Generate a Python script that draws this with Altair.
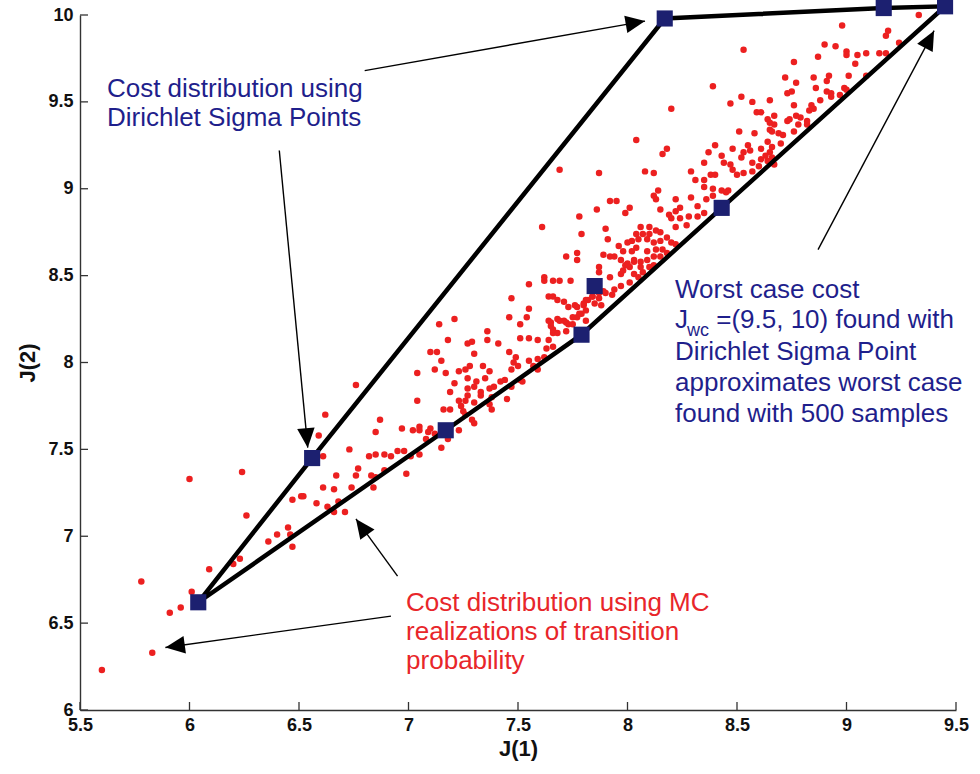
import math
import altair as alt
import pandas as pd

# ---------------- data ----------------
W, H = 876, 695
X_DOM = [5.5, 9.5]
Y_DOM = [6.0, 10.0]

x_ticks = [5.5, 6, 6.5, 7, 7.5, 8, 8.5, 9, 9.5]
y_ticks = [6, 6.5, 7, 7.5, 8, 8.5, 9, 9.5, 10]

# Dirichlet sigma points (blue squares)
sigma_x = [6.04, 6.56, 7.17, 7.79, 7.85, 8.43, 8.17, 9.17, 9.45]
sigma_y = [6.62, 7.45, 7.61, 8.16, 8.44, 8.89, 9.98, 10.04, 10.05]

# outline through the sigma points
hull_x = [6.04, 6.56, 8.17, 9.17, 9.45, 8.43, 7.79, 7.17, 6.04]
hull_y = [6.62, 7.45, 9.98, 10.04, 10.05, 8.89, 8.16, 7.61, 6.62]

# Monte Carlo cost realizations (red dots)
mc_points = [
    (6.00, 7.33), (6.24, 7.37), (6.26, 7.12), (6.47, 7.21), (6.51, 7.23), (6.45, 7.05),
    (6.46, 7.01), (6.40, 7.01), (6.36, 6.97), (6.47, 6.94), (6.23, 6.87), (6.20, 6.84),
    (6.09, 6.81), (5.78, 6.74), (6.01, 6.68), (5.96, 6.59), (5.91, 6.56), (5.83, 6.33),
    (5.60, 6.23), (6.66, 7.14),
    (6.76, 7.87), (6.62, 7.70), (6.87, 7.67), (6.59, 7.58), (6.85, 7.60), (6.61, 7.46),
    (6.73, 7.50), (6.82, 7.46), (6.85, 7.47), (6.89, 7.47), (6.92, 7.46), (6.95, 7.49),
    (6.98, 7.49), (7.01, 7.46), (7.05, 7.47), (6.77, 7.39), (6.67, 7.35), (6.76, 7.35),
    (6.83, 7.35), (6.85, 7.34), (6.89, 7.38), (6.99, 7.36), (6.52, 7.23), (6.61, 7.28),
    (6.66, 7.27), (6.74, 7.28), (6.84, 7.28), (6.58, 7.19), (6.63, 7.17), (6.68, 7.20),
    (6.71, 7.14),
    (6.97, 7.62), (7.02, 7.61), (7.05, 7.63), (7.05, 7.61), (7.09, 7.60), (7.10, 7.62),
    (7.08, 7.56), (7.12, 7.59), (7.15, 7.51), (7.18, 7.56), (7.23, 7.61),
    (7.04, 7.94), (7.04, 7.78), (7.18, 8.13), (7.12, 7.96), (7.17, 7.94), (7.15, 8.01),
    (7.10, 8.06), (7.13, 8.06), (7.16, 7.73), (7.19, 7.73), (7.19, 7.83), (7.21, 7.88),
    (7.23, 7.95), (7.26, 7.96), (7.28, 7.98), (7.27, 8.11), (7.29, 8.12), (7.30, 8.05),
    (7.36, 8.18), (7.36, 8.13), (7.41, 8.11), (7.34, 7.98), (7.37, 7.95), (7.27, 7.91),
    (7.31, 7.89), (7.35, 7.91), (7.27, 7.85), (7.30, 7.86), (7.33, 7.83), (7.33, 7.81),
    (7.37, 7.85), (7.39, 7.86), (7.42, 7.89), (7.44, 7.90), (7.23, 7.78), (7.26, 7.78),
    (7.27, 7.81), (7.30, 7.77), (7.24, 7.75), (7.25, 7.72), (7.26, 7.70), (7.29, 7.67),
    (7.30, 7.65), (7.37, 7.76), (7.38, 7.73), (7.38, 7.80), (7.45, 7.79), (7.47, 7.86),
    (7.46, 8.06), (7.48, 8.00), (7.47, 7.96), (7.49, 8.03), (7.50, 7.98),
    (7.61, 8.78), (7.79, 8.74), (7.90, 8.77), (7.91, 8.71), (7.96, 8.67), (8.04, 8.74),
    (7.72, 8.61), (7.77, 8.63), (7.77, 8.59), (7.89, 8.62), (7.92, 8.61), (7.94, 8.61),
    (7.87, 8.55), (7.87, 8.52), (7.92, 8.49), (7.97, 8.51), (7.99, 8.56), (8.03, 8.58),
    (7.55, 8.45), (7.62, 8.47), (7.66, 8.47), (7.69, 8.47), (7.74, 8.47), (7.62, 8.49),
    (7.47, 8.37), (7.64, 8.38), (7.66, 8.38), (7.68, 8.36), (7.71, 8.35), (7.73, 8.32),
    (7.76, 8.33), (7.80, 8.33), (7.81, 8.36), (7.84, 8.38), (7.85, 8.34), (7.87, 8.37),
    (7.88, 8.33), (7.90, 8.40), (7.93, 8.39), (7.94, 8.42), (7.97, 8.44), (8.01, 8.46),
    (8.05, 8.49), (7.55, 8.31), (7.54, 8.26), (7.51, 8.22), (7.46, 8.26), (7.14, 8.22),
    (7.21, 8.25), (7.51, 8.14), (7.55, 8.14), (7.59, 8.13), (7.64, 8.13), (7.64, 8.24),
    (7.65, 8.21), (7.66, 8.17), (7.69, 8.24), (7.72, 8.23), (7.75, 8.22), (7.77, 8.26),
    (7.79, 8.28), (7.81, 8.24), (7.55, 8.01), (7.59, 8.02), (7.63, 8.08), (7.66, 8.09),
    (7.57, 7.98), (7.59, 7.96), (7.62, 8.03), (7.51, 7.90), (7.52, 7.89),
    (7.65, 8.23), (7.68, 8.25), (7.71, 8.24), (7.73, 8.22), (7.72, 8.18), (7.68, 8.17),
    (7.66, 8.19), (7.75, 8.26), (7.77, 8.32), (7.80, 8.34), (7.82, 8.36), (7.84, 8.38),
    (7.87, 8.40), (7.89, 8.41), (7.78, 8.28), (7.81, 8.30),
    (8.20, 9.46), (8.47, 9.49), (8.57, 9.50), (8.59, 9.44), (8.04, 9.28), (8.18, 9.23),
    (8.16, 9.20), (8.51, 9.33), (8.58, 9.32), (8.40, 9.25), (8.37, 9.21), (8.43, 9.19),
    (8.48, 9.23), (8.55, 9.25), (8.53, 9.21), (8.56, 9.22), (8.52, 9.18), (8.35, 9.15),
    (8.44, 9.15), (8.47, 9.14), (8.48, 9.11), (8.50, 9.08), (8.53, 9.09), (8.57, 9.15),
    (8.57, 9.10), (8.60, 9.13), (7.69, 9.11), (7.87, 9.09), (8.08, 9.10), (8.12, 9.09),
    (8.29, 9.10), (8.31, 9.05), (8.35, 9.05), (8.38, 9.08), (8.40, 9.08), (8.35, 9.01),
    (8.39, 9.00), (8.43, 8.99), (8.46, 8.99), (8.14, 8.99), (8.12, 8.96), (7.92, 8.93),
    (7.95, 8.93), (8.01, 8.89), (7.86, 8.88), (7.99, 8.86), (7.78, 8.84), (8.13, 8.94),
    (8.15, 8.88), (8.22, 8.94), (8.24, 8.89), (8.29, 8.95), (8.36, 8.94), (8.39, 8.96),
    (8.45, 8.98), (8.32, 8.90), (8.35, 8.86), (8.32, 8.84), (8.19, 8.85), (8.22, 8.87),
    (8.20, 8.83), (8.24, 8.83), (8.28, 8.84), (8.27, 8.79), (8.22, 8.78),
    (8.00, 8.69), (8.02, 8.70), (8.06, 8.78), (8.10, 8.78), (8.10, 8.74), (8.07, 8.74),
    (8.05, 8.71), (8.09, 8.71), (8.13, 8.76), (8.15, 8.75), (8.12, 8.69), (8.15, 8.70),
    (8.18, 8.72), (8.20, 8.69), (8.22, 8.68), (8.16, 8.65), (8.13, 8.65), (8.09, 8.64),
    (8.04, 8.66), (8.02, 8.64), (7.98, 8.64), (7.97, 8.59), (8.00, 8.57), (8.03, 8.59),
    (8.06, 8.58), (8.09, 8.59), (8.12, 8.61), (8.15, 8.61), (8.18, 8.63), (8.10, 8.55),
    (8.06, 8.55), (8.01, 8.55), (7.98, 8.53), (8.03, 8.51), (8.07, 8.52), (8.12, 8.56),
    (9.33, 10.00), (8.98, 9.94), (9.19, 9.91), (9.18, 9.88), (9.24, 9.84), (8.53, 9.80),
    (8.90, 9.83), (8.95, 9.82), (9.00, 9.79), (9.00, 9.77), (9.05, 9.77), (9.09, 9.78),
    (9.15, 9.78), (9.18, 9.78), (8.87, 9.76), (8.76, 9.73), (9.04, 9.72), (8.72, 9.64),
    (8.77, 9.61), (8.85, 9.64), (8.91, 9.62), (8.92, 9.65), (9.01, 9.65), (9.09, 9.65),
    (8.39, 9.59), (8.86, 9.58), (8.75, 9.56), (8.73, 9.55), (8.91, 9.56), (8.93, 9.55),
    (8.93, 9.53), (8.97, 9.54), (8.99, 9.58), (9.00, 9.57), (8.52, 9.53), (8.65, 9.51),
    (8.76, 9.48), (8.88, 9.51), (8.84, 9.48), (8.85, 9.46), (8.83, 9.45), (8.61, 9.44),
    (8.67, 9.42), (8.64, 9.40), (8.65, 9.38), (8.67, 9.37), (8.77, 9.42), (8.79, 9.41),
    (8.78, 9.37), (8.74, 9.40), (8.82, 9.39), (8.82, 9.37), (8.65, 9.34), (8.66, 9.33),
    (8.69, 9.32), (8.71, 9.31), (8.76, 9.33), (8.73, 9.39), (8.61, 9.23), (8.66, 9.24),
    (8.70, 9.26), (8.64, 9.27), (8.65, 9.21), (8.63, 9.19), (8.61, 9.17), (8.66, 9.18),
    (8.64, 9.16), (8.67, 9.14),
]

# annotation arrows: (from x, from y) -> (tip x, tip y)
arrow_from_x = [6.80, 6.41, 8.87, 6.95, 6.92]
arrow_from_y = [9.68, 9.22, 8.65, 6.77, 6.54]
arrow_to_x = [8.08, 6.54, 9.40, 6.76, 5.89]
arrow_to_y = [9.965, 7.51, 9.91, 7.10, 6.36]

# annotation text lines
NAVY = "#1f1f8c"
RED = "#e8262a"
note_text = [
    "Cost distribution using", "Dirichlet Sigma Points",
    "Worst case cost", "J", "wc", "=(9.5, 10) found with", "Dirichlet Sigma Point",
    "approximates worst case", "found with 500 samples",
    "Cost distribution using MC", "realizations of transition", "probability",
]
note_x = [5.623, 5.623,
          8.217, 8.217, 8.272, 8.405, 8.217, 8.217, 8.217,
          6.989, 6.989, 6.989]
note_y = [9.528, 9.361,
          8.371, 8.199, 8.150, 8.199, 8.015, 7.836, 7.658,
          6.570, 6.403, 6.236]
note_color = [NAVY, NAVY, NAVY, NAVY, NAVY, NAVY, NAVY, NAVY, NAVY, RED, RED, RED]
note_size = [26, 26, 26, 26, 18, 26, 26, 26, 26, 26, 26, 26]

# ---------------- build ----------------
FONT = "Liberation Sans"
xs = alt.Scale(domain=X_DOM, nice=False, zero=False)
ys = alt.Scale(domain=Y_DOM, nice=False, zero=False)

mc_df = pd.DataFrame(mc_points, columns=["x", "y"])
sig_df = pd.DataFrame({"x": sigma_x, "y": sigma_y})
hull_df = pd.DataFrame({"x": hull_x, "y": hull_y, "o": list(range(len(hull_x)))})

kx = W / (X_DOM[1] - X_DOM[0])
ky = H / (Y_DOM[1] - Y_DOM[0])
angles = []
for fx, fy, tx, ty in zip(arrow_from_x, arrow_from_y, arrow_to_x, arrow_to_y):
    a = math.degrees(math.atan2(-(ty - fy) * ky, (tx - fx) * kx)) % 360
    angles.append(a)
arr_df = pd.DataFrame({"x": arrow_from_x, "y": arrow_from_y,
                       "x2": arrow_to_x, "y2": arrow_to_y})
head_df = pd.DataFrame({"x": arrow_to_x, "y": arrow_to_y, "ang": angles})
note_df = pd.DataFrame({"t": note_text, "x": note_x, "y": note_y,
                        "c": note_color, "s": note_size})
xt_df = pd.DataFrame({"x": x_ticks})
yt_df = pd.DataFrame({"y": y_ticks})

common_axis = dict(format="~g", grid=False, ticks=False, labelFlush=False,
                   labelOverlap=False, labelFont=FONT, labelFontSize=18,
                   labelFontWeight="bold", labelColor="#111111",
                   titleFont=FONT, titleFontSize=22,
                   titleColor="#111111", titleFontWeight="bold",
                   domainColor="#333333", domainWidth=1.4)
x_axis = alt.Axis(title="J(1)", values=x_ticks, labelPadding=6, titlePadding=4,
                  **common_axis)
y_axis = alt.Axis(title="J(2)", values=y_ticks, labelPadding=7, titlePadding=8,
                  **common_axis)


def X(field="x"):
    return alt.X(f"{field}:Q", scale=xs, axis=x_axis, title="J(1)")


def Y(field="y"):
    return alt.Y(f"{field}:Q", scale=ys, axis=y_axis, title="J(2)")


scatter = alt.Chart(mc_df).mark_circle(size=42, color="#ec2020", opacity=1).encode(
    x=X(), y=Y(),
)

hull = alt.Chart(hull_df).mark_line(color="black", strokeWidth=4.5, strokeJoin="miter").encode(
    x=X(), y=Y(), order="o:Q",
)

squares = alt.Chart(sig_df).mark_square(size=260, color="#1c2070", opacity=1).encode(
    x=X(), y=Y(),
)

shafts = alt.Chart(arr_df).mark_rule(color="black", strokeWidth=1.4).encode(
    x=X(), y=Y(), x2="x2:Q", y2="y2:Q",
)

heads = alt.Chart(head_df).mark_point(
    shape="M0,0 L-2,-0.9 L-2,0.9 Z", filled=True, color="black", opacity=1,
    size=380, strokeWidth=0,
).encode(
    x=X(), y=Y(), angle=alt.Angle("ang:Q", scale=None),
)

notes = alt.Chart(note_df).mark_text(align="left", baseline="alphabetic", font=FONT).encode(
    x=X(), y=Y(),
    text="t:N",
    color=alt.Color("c:N", scale=None),
    size=alt.Size("s:Q", scale=None),
)

xticks = alt.Chart(xt_df).mark_rule(color="#333333", strokeWidth=1.3).encode(
    x=X(),
    y=alt.value(H),
    y2=alt.value(H - 8),
)
yticks = alt.Chart(yt_df).mark_rule(color="#333333", strokeWidth=1.3).encode(
    y=Y(),
    x=alt.value(0),
    x2=alt.value(8),
)

chart = alt.layer(scatter, hull, squares, shafts, heads, notes, xticks, yticks).properties(
    width=W, height=H,
    padding={"left": 80, "top": 15, "right": 24, "bottom": 64},
    autosize=alt.AutoSizeParams(type="none"),
    background="white",
).configure_view(stroke=None)

chart.save("out.html", embed_options={"renderer": "svg", "actions": False})
